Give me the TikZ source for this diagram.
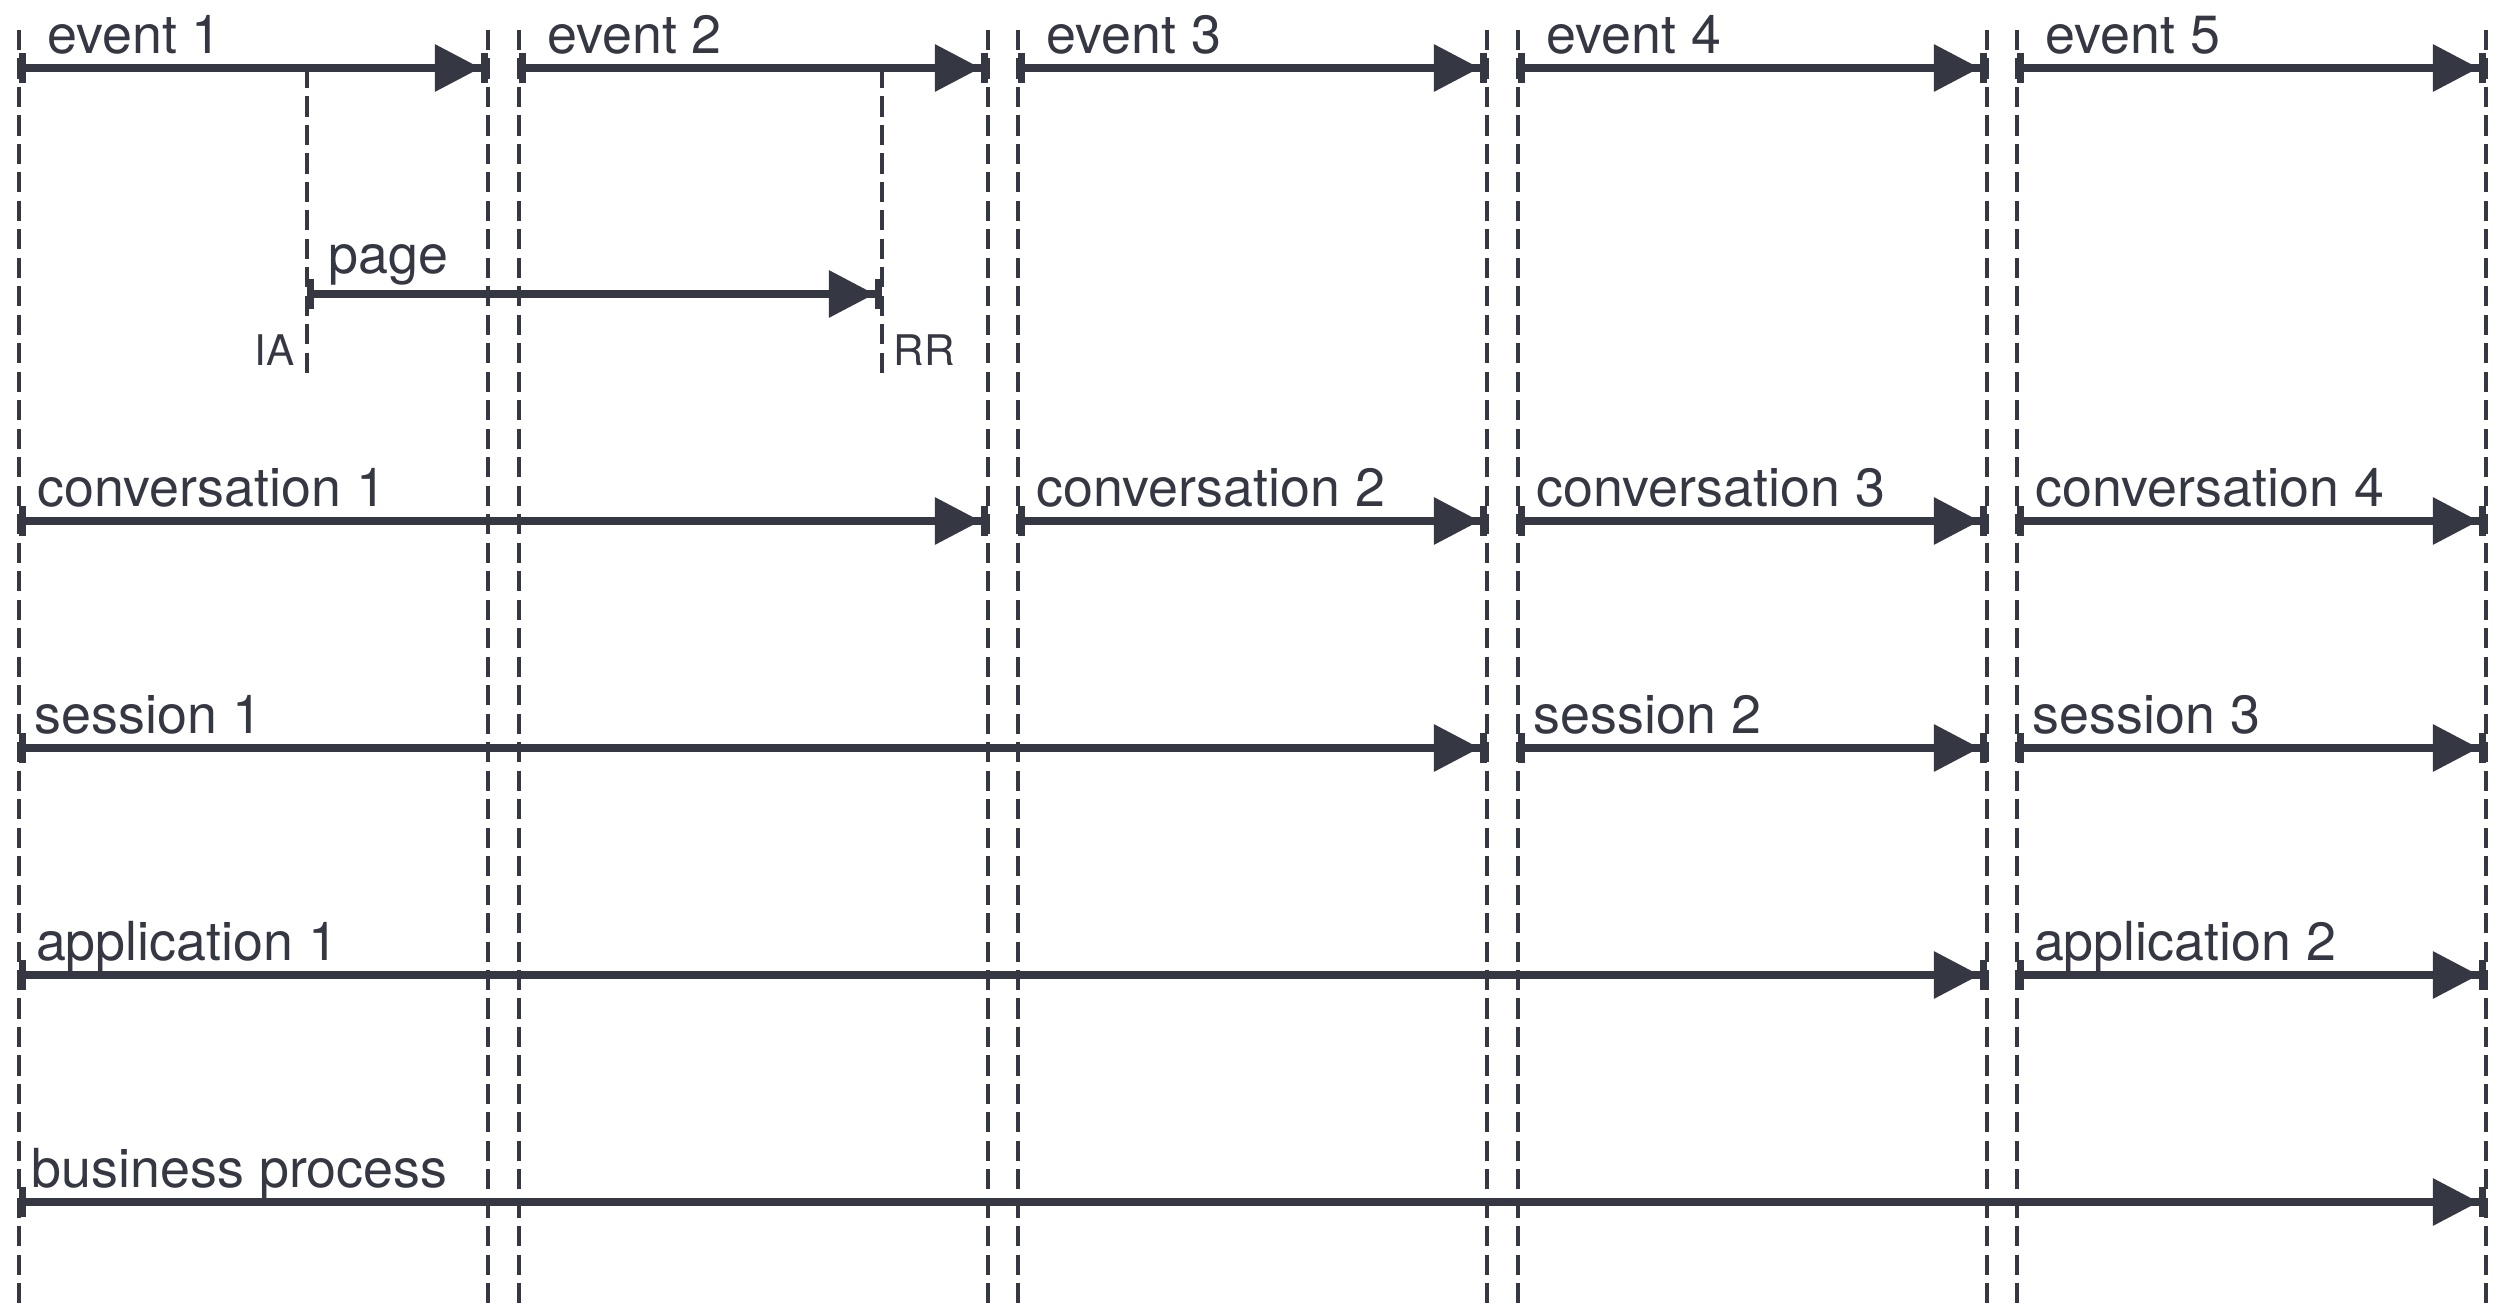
\documentclass[tikz,border=0pt]{standalone}
\usepackage{fontspec}
\setmainfont{TeX Gyre Heros}
\usetikzlibrary{arrows.meta}
\definecolor{slate}{RGB}{53,56,67}

\begin{document}
\begin{tikzpicture}[x=0.01cm, y=-0.01cm,
    span/.style={{Bar[width=8.8pt]}-{Triangle[length=13pt,width=13pt] Bar[width=8.8pt]}, line width=2.1pt, draw=slate},
    guide/.style={draw=slate, line width=0.95pt, dash pattern=on 5.7pt off 2.4pt},
    lbl/.style={pos=0, anchor=base west, inner sep=0pt, yshift=4.1pt, text=slate, font=\fontsize{15.3}{18}\selectfont},
    tag/.style={inner sep=0pt, text=slate, font=\fontsize{12}{14}\selectfont}]
  \useasboundingbox (0,0) rectangle (2509,1306);

  % columns
  \coordinate (s1) at (19,0);   \coordinate (e1) at (488,0);
  \coordinate (s2) at (519,0);  \coordinate (e2) at (988,0);
  \coordinate (s3) at (1018,0); \coordinate (e3) at (1487,0);
  \coordinate (s4) at (1518,0); \coordinate (e4) at (1987,0);
  \coordinate (s5) at (2017,0); \coordinate (e5) at (2486,0);
  \coordinate (ia) at (307,0);  \coordinate (rr) at (882,0);

  % rows
  \coordinate (top) at (0,30);   \coordinate (bot) at (0,1306);
  \coordinate (rE) at (0,68);    \coordinate (rP) at (0,294);
  \coordinate (rT) at (0,365);   \coordinate (pbot) at (0,377);
  \coordinate (rC) at (0,521);   \coordinate (rS) at (0,748);
  \coordinate (rA) at (0,975);   \coordinate (rB) at (0,1202);

  % boundaries
  \draw[guide] (s1 |- top) -- (s1 |- bot);
  \draw[guide] (e1 |- top) -- (e1 |- bot);
  \draw[guide] (s2 |- top) -- (s2 |- bot);
  \draw[guide] (e2 |- top) -- (e2 |- bot);
  \draw[guide] (s3 |- top) -- (s3 |- bot);
  \draw[guide] (e3 |- top) -- (e3 |- bot);
  \draw[guide] (s4 |- top) -- (s4 |- bot);
  \draw[guide] (e4 |- top) -- (e4 |- bot);
  \draw[guide] (s5 |- top) -- (s5 |- bot);
  \draw[guide] (e5 |- top) -- (e5 |- bot);
  \draw[guide] (ia |- rE) -- (ia |- pbot);
  \draw[guide] (rr |- rE) -- (rr |- pbot);

  % events
  \draw[span] (s1 |- rE) -- node[lbl, xshift=7pt] (ev1) {event 1} (e1 |- rE);
  \draw[span] (s2 |- rE) -- node[lbl, xshift=7pt] (ev2) {event 2} (e2 |- rE);
  \draw[span] (s3 |- rE) -- node[lbl, xshift=7pt] (ev3) {event 3} (e3 |- rE);
  \draw[span] (s4 |- rE) -- node[lbl, xshift=7pt] (ev4) {event 4} (e4 |- rE);
  \draw[span] (s5 |- rE) -- node[lbl, xshift=7pt] (ev5) {event 5} (e5 |- rE);

  % page
  \draw[span] (ia |- rP) -- node[lbl, xshift=5.1pt, yshift=1.8pt] (pg) {page} (rr |- rP);
  \node[tag, anchor=base east, xshift=-3.4pt] (ialbl) at (ia |- rT) {IA};
  \node[tag, anchor=base west, xshift=3.2pt] (rrlbl) at (rr |- rT) {RR};

  % conversations
  \draw[span] (s1 |- rC) -- node[lbl, xshift=4.3pt] (cv1) {conversation 1} (e2 |- rC);
  \draw[span] (s3 |- rC) -- node[lbl, xshift=4.3pt] (cv2) {conversation 2} (e3 |- rC);
  \draw[span] (s4 |- rC) -- node[lbl, xshift=4.3pt] (cv3) {conversation 3} (e4 |- rC);
  \draw[span] (s5 |- rC) -- node[lbl, xshift=4.3pt] (cv4) {conversation 4} (e5 |- rC);

  % sessions
  \draw[span] (s1 |- rS) -- node[lbl, xshift=3.4pt] (ss1) {session 1} (e3 |- rS);
  \draw[span] (s4 |- rS) -- node[lbl, xshift=3.4pt] (ss2) {session 2} (e4 |- rS);
  \draw[span] (s5 |- rS) -- node[lbl, xshift=3.4pt] (ss3) {session 3} (e5 |- rS);

  % applications
  \draw[span] (s1 |- rA) -- node[lbl, xshift=3.8pt] (ap1) {application 1} (e4 |- rA);
  \draw[span] (s5 |- rA) -- node[lbl, xshift=3.8pt] (ap2) {application 2} (e5 |- rA);

  % business process
  \draw[span] (s1 |- rB) -- node[lbl, xshift=2.6pt] (bp) {business process} (e5 |- rB);
\end{tikzpicture}
\end{document}
